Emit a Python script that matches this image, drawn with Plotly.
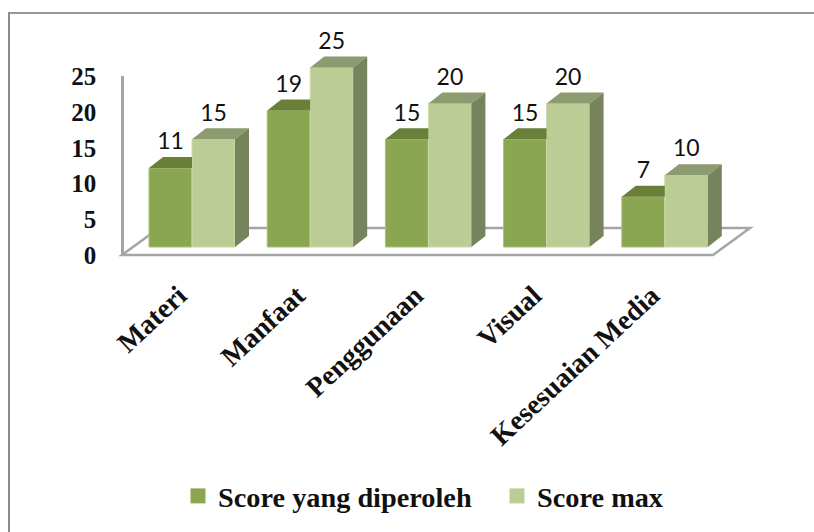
import plotly.graph_objects as go

categories = ["Materi", "Manfaat", "Penggunaan", "Visual", "Kesesuaian Media"]
score_diperoleh = [11, 19, 15, 15, 7]
score_max = [15, 25, 20, 20, 10]
y_ticks = [0, 5, 10, 15, 20, 25]

W, H = 814, 532
GROUP_PX = 118.2      # px per category
UNIT_PX = 7.18        # px per value unit
ZERO_X_PX = 192       # px position of category 0
BASE_Y_PX = 247       # px of bars' baseline
WALL_ZERO_PX = 255.5  # px of the wall axis zero
BAR = 43 / GROUP_PX
DX = 14 / GROUP_PX
DY = 11 / UNIT_PX
LABEL_GAP = 2 / UNIT_PX

x_range = [-ZERO_X_PX / GROUP_PX, (W - ZERO_X_PX) / GROUP_PX]
y2_range = [-(H - BASE_Y_PX) / UNIT_PX, BASE_Y_PX / UNIT_PX]

DARK, DARK_TOP = "#8AA650", "#6A8038"
LIGHT, LIGHT_TOP, LIGHT_SIDE = "#BBCD95", "#8C9B70", "#76835D"
SERIF = "Liberation Serif"
EDGE = "#A5A5A5"


def dark_top(values):
    xs, ys = [], []
    for i, v in enumerate(values):
        xs += [i - BAR, i - BAR + DX, i, i, None]
        ys += [v, v + DY, v + DY, v, None]
    return xs, ys


def light_top(values):
    xs, ys = [], []
    for i, v in enumerate(values):
        xs += [i, i + DX, i + BAR + DX, i + BAR, None]
        ys += [v, v + DY, v + DY, v, None]
    return xs, ys


def light_side(values):
    xs, ys = [], []
    for i, v in enumerate(values):
        xs += [i + BAR, i + BAR + DX, i + BAR + DX, i + BAR, None]
        ys += [0, DY, v + DY, v, None]
    return xs, ys


fig = go.Figure()
idx = list(range(len(categories)))

# legend entries (also keep the wall axis alive)
for name, col in [("Score yang diperoleh", DARK), ("Score max", LIGHT)]:
    fig.add_trace(go.Scatter(x=[None], y=[None], yaxis="y", mode="markers", name=name,
                             marker=dict(symbol="square", size=15, color=col)))

fig.add_bar(x=idx, y=score_diperoleh, name="Score yang diperoleh", yaxis="y2", showlegend=False,
            marker=dict(color=DARK, line=dict(color="#A9C07A", width=1)))
fig.add_bar(x=idx, y=score_max, name="Score max", yaxis="y2", showlegend=False,
            marker=dict(color=LIGHT, line=dict(color="#CBD9AE", width=1)))

for (xs, ys), col in [(dark_top(score_diperoleh), DARK_TOP),
                      (light_top(score_max), LIGHT_TOP),
                      (light_side(score_max), LIGHT_SIDE)]:
    fig.add_trace(go.Scatter(x=xs, y=ys, yaxis="y2", mode="lines", fill="toself", fillcolor=col,
                             line=dict(width=0, color=col), hoverinfo="skip", showlegend=False))

label_font = dict(family="Lato", size=23, color="#111111")
fig.add_trace(go.Scatter(x=[i - BAR / 2 for i in idx], y=[v + DY + LABEL_GAP for v in score_diperoleh], yaxis="y2",
                         mode="text", text=[str(v) for v in score_diperoleh], textposition="top center",
                         textfont=label_font, showlegend=False, cliponaxis=False))
fig.add_trace(go.Scatter(x=[i + BAR / 2 for i in idx], y=[v + DY + LABEL_GAP for v in score_max], yaxis="y2",
                         mode="text", text=[str(v) for v in score_max], textposition="top center",
                         textfont=label_font, showlegend=False, cliponaxis=False))


def px(x):
    return x / W


def py(y):
    return 1 - y / H


shapes = [
    dict(type="path", xref="paper", yref="paper", layer="below",
         path=f"M {px(122)} {py(255)} L {px(713)} {py(255)} L {px(750)} {py(228)} L {px(159)} {py(228)} Z",
         line=dict(color=EDGE, width=2.5), fillcolor="white"),
    dict(type="line", xref="paper", yref="paper", x0=px(8.5), x1=1, y0=py(13), y1=py(13),
         line=dict(color="#999999", width=2)),
    dict(type="line", xref="paper", yref="paper", x0=px(9), x1=px(9), y0=py(12), y1=0,
         line=dict(color="#8C8C8C", width=2)),
]

fig.update_layout(
    width=W, height=H, margin=dict(l=0, r=0, t=0, b=0, pad=0, autoexpand=False),
    paper_bgcolor="white", plot_bgcolor="rgba(0,0,0,0)",
    barmode="group", bargap=1 - 2 * BAR, bargroupgap=0,
    shapes=shapes,
    xaxis=dict(domain=[0, 1], range=x_range, showgrid=False, zeroline=False, showline=False,
               anchor="free", position=py(261),
               tickmode="array", tickvals=idx, ticktext=categories, tickangle=-43,
               ticks="outside", ticklen=6, tickcolor="rgba(0,0,0,0)", ticklabelshift=-13,
               tickfont=dict(family=SERIF, size=28, color="#111111", weight="bold")),
    yaxis=dict(domain=[py(WALL_ZERO_PX), py(WALL_ZERO_PX - 25 * UNIT_PX)], range=[0, 25],
               anchor="free", position=px(122), showgrid=False, zeroline=False,
               showline=True, linecolor=EDGE, linewidth=2.5,
               tickmode="array", tickvals=y_ticks,
               ticks="outside", ticklen=20, tickcolor="rgba(0,0,0,0)",
               tickfont=dict(family=SERIF, size=25, color="#111111", weight="bold")),
    yaxis2=dict(domain=[0, 1], range=y2_range, anchor="x", visible=False),
    legend=dict(orientation="h", x=px(178), y=py(471), xanchor="left", yanchor="top",
                entrywidth=274, entrywidthmode="pixels",
                font=dict(family=SERIF, size=28.3, color="#111111", weight="bold"),
                bgcolor="rgba(0,0,0,0)"),
    showlegend=True,
)

fig.write_html("out.html", post_script="document.body.style.margin='0';",
               config={"displayModeBar": False})
